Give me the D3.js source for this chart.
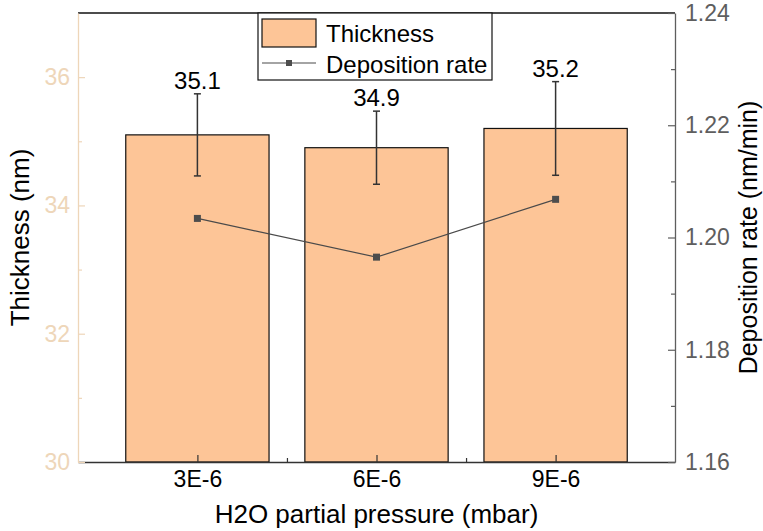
<!DOCTYPE html>
<html>
<head>
<meta charset="utf-8">
<script src="https://cdn.jsdelivr.net/npm/d3@7"></script>
<style>
  body { margin: 0; background: #fff; }
  svg text { font-family: "Liberation Sans", Arial, sans-serif; }
</style>
</head>
<body>
<svg id="chart"></svg>
<script>
// data
const pressures = [3e-6, 6e-6, 9e-6];
const pressureLabels = ['3E-6', '6E-6', '9E-6'];
const thickness = [35.1, 34.9, 35.2];
const thicknessErr = [0.64, 0.57, 0.73];
const depRate = [1.2034, 1.1965, 1.2068];
const leftTicks = [30, 32, 34, 36];
const leftMinor = [31, 33, 35];
const rightTicks = [1.16, 1.18, 1.20, 1.22, 1.24];
const rightMinor = [1.17, 1.19, 1.21, 1.23];
const xMinor = [4.5e-6, 7.5e-6];

const width = 763, height = 531;
const margin = { top: 13, right: 88, bottom: 69, left: 78 };
const innerW = width - margin.left - margin.right;
const innerH = height - margin.top - margin.bottom;

const tan = '#eed6b9';
const peach = '#fdc597';
const grey = '#5e5e5e';

const svg = d3.select('#chart').attr('width', width).attr('height', height);
const chart = svg.append('g').attr('transform', `translate(${margin.left}, ${margin.top})`);

const xscale = d3.scaleLinear().domain([1e-6, 11e-6]).range([0, innerW]);
const yscale = d3.scaleLinear().domain([30, 37]).range([innerH, 0]);
const y2scale = d3.scaleLinear().domain([1.16, 1.24]).range([innerH, 0]);
const barW = xscale(2.4e-6) - xscale(0);

const rows = pressures.map((p, i) => ({ p, t: thickness[i], e: thicknessErr[i], r: depRate[i] }));

// bars
chart.selectAll('rect.bar').data(rows).enter().append('rect')
  .attr('class', 'bar')
  .attr('x', d => xscale(d.p) - barW / 2)
  .attr('y', d => yscale(d.t))
  .attr('width', barW)
  .attr('height', d => innerH - yscale(d.t))
  .attr('fill', peach)
  .attr('stroke', '#111')
  .attr('stroke-width', 1.2);

// error bars
const eb = chart.selectAll('g.err').data(rows).enter().append('g').attr('class', 'err')
  .attr('stroke', '#333').attr('stroke-width', 1.5);
eb.append('line')
  .attr('x1', d => xscale(d.p)).attr('x2', d => xscale(d.p))
  .attr('y1', d => yscale(d.t + d.e)).attr('y2', d => yscale(d.t - d.e));
eb.append('line')
  .attr('x1', d => xscale(d.p) - 3.5).attr('x2', d => xscale(d.p) + 3.5)
  .attr('y1', d => yscale(d.t + d.e)).attr('y2', d => yscale(d.t + d.e));
eb.append('line')
  .attr('x1', d => xscale(d.p) - 3.5).attr('x2', d => xscale(d.p) + 3.5)
  .attr('y1', d => yscale(d.t - d.e)).attr('y2', d => yscale(d.t - d.e));

// value labels
chart.selectAll('text.val').data(rows).enter().append('text')
  .attr('class', 'val')
  .attr('x', d => xscale(d.p))
  .attr('y', d => yscale(d.t + d.e) - 5)
  .attr('text-anchor', 'middle')
  .attr('font-size', 24)
  .attr('fill', '#000')
  .text(d => d.t.toFixed(1));

// deposition rate line
const line = d3.line().x(d => xscale(d.p)).y(d => y2scale(d.r));
chart.append('path')
  .attr('d', line(rows))
  .attr('fill', 'none')
  .attr('stroke', '#4a4a4a')
  .attr('stroke-width', 1.2);
chart.selectAll('rect.pt').data(rows).enter().append('rect')
  .attr('class', 'pt')
  .attr('x', d => xscale(d.p) - 3.5)
  .attr('y', d => y2scale(d.r) - 3.5)
  .attr('width', 7).attr('height', 7)
  .attr('fill', '#4d4d4d');

// axes
const styleAxis = (g, color) => {
  g.selectAll('path.domain').attr('stroke', color).attr('stroke-width', 1.3);
  g.selectAll('.tick line').attr('stroke', color).attr('stroke-width', 1.2);
  g.selectAll('.tick text').attr('fill', color).attr('font-size', 23)
    .attr('font-family', '"Liberation Sans", Arial, sans-serif');
};

// top border
chart.append('line')
  .attr('x1', 0).attr('x2', innerW).attr('y1', 0).attr('y2', 0)
  .attr('stroke', '#111').attr('stroke-width', 1.3);

const xaxis = chart.append('g').attr('transform', `translate(0, ${innerH})`)
  .call(d3.axisBottom(xscale).tickValues(pressures)
    .tickFormat((d, i) => pressureLabels[i]).tickSize(-7).tickSizeOuter(0).tickPadding(9));
styleAxis(xaxis, '#333');
xaxis.selectAll('.tick text').attr('fill', '#000');
const xminor = chart.append('g').attr('transform', `translate(0, ${innerH})`)
  .call(d3.axisBottom(xscale).tickValues(xMinor).tickFormat('').tickSize(-4).tickSizeOuter(0));
styleAxis(xminor, '#333');
xminor.select('path.domain').remove();

const yaxis = chart.append('g')
  .call(d3.axisLeft(yscale).tickValues(leftTicks).tickFormat(d3.format('d'))
    .tickSize(-7).tickSizeOuter(0).tickPadding(8));
styleAxis(yaxis, tan);
const yminor = chart.append('g')
  .call(d3.axisLeft(yscale).tickValues(leftMinor).tickFormat('').tickSize(-4).tickSizeOuter(0));
styleAxis(yminor, tan);
yminor.select('path.domain').remove();

const y2axis = chart.append('g').attr('transform', `translate(${innerW}, 0)`)
  .call(d3.axisRight(y2scale).tickValues(rightTicks).tickFormat(d3.format('.2f'))
    .tickSize(-7).tickSizeOuter(0).tickPadding(10));
styleAxis(y2axis, grey);
const y2minor = chart.append('g').attr('transform', `translate(${innerW}, 0)`)
  .call(d3.axisRight(y2scale).tickValues(rightMinor).tickFormat('').tickSize(-4).tickSizeOuter(0));
styleAxis(y2minor, grey);
y2minor.select('path.domain').remove();

// axis titles
svg.append('text')
  .attr('x', margin.left + innerW / 2)
  .attr('y', 523)
  .attr('text-anchor', 'middle')
  .attr('font-size', 26)
  .text('H2O partial pressure (mbar)');

svg.append('text')
  .attr('transform', 'rotate(-90)')
  .attr('x', -(margin.top + innerH / 2))
  .attr('y', 29)
  .attr('text-anchor', 'middle')
  .attr('font-size', 26)
  .text('Thickness (nm)');

svg.append('text')
  .attr('transform', 'rotate(-90)')
  .attr('x', -(margin.top + innerH / 2))
  .attr('y', 757)
  .attr('text-anchor', 'middle')
  .attr('font-size', 25)
  .text('Deposition rate (nm/min)');

// legend
const legend = svg.append('g').attr('transform', 'translate(258, 13)');
legend.append('rect')
  .attr('width', 234).attr('height', 67)
  .attr('fill', '#fff').attr('stroke', '#111').attr('stroke-width', 1.2);
legend.append('rect')
  .attr('x', 4).attr('y', 6).attr('width', 54).attr('height', 28)
  .attr('fill', peach).attr('stroke', '#111').attr('stroke-width', 1.2);
legend.append('text').attr('x', 68).attr('y', 29).attr('font-size', 24).text('Thickness');
legend.append('line')
  .attr('x1', 4).attr('x2', 58).attr('y1', 50).attr('y2', 50)
  .attr('stroke', '#4a4a4a').attr('stroke-width', 1.2);
legend.append('rect')
  .attr('x', 28).attr('y', 47).attr('width', 6).attr('height', 6).attr('fill', '#4d4d4d');
legend.append('text').attr('x', 68).attr('y', 60).attr('font-size', 24).text('Deposition rate');
</script>
</body>
</html>
